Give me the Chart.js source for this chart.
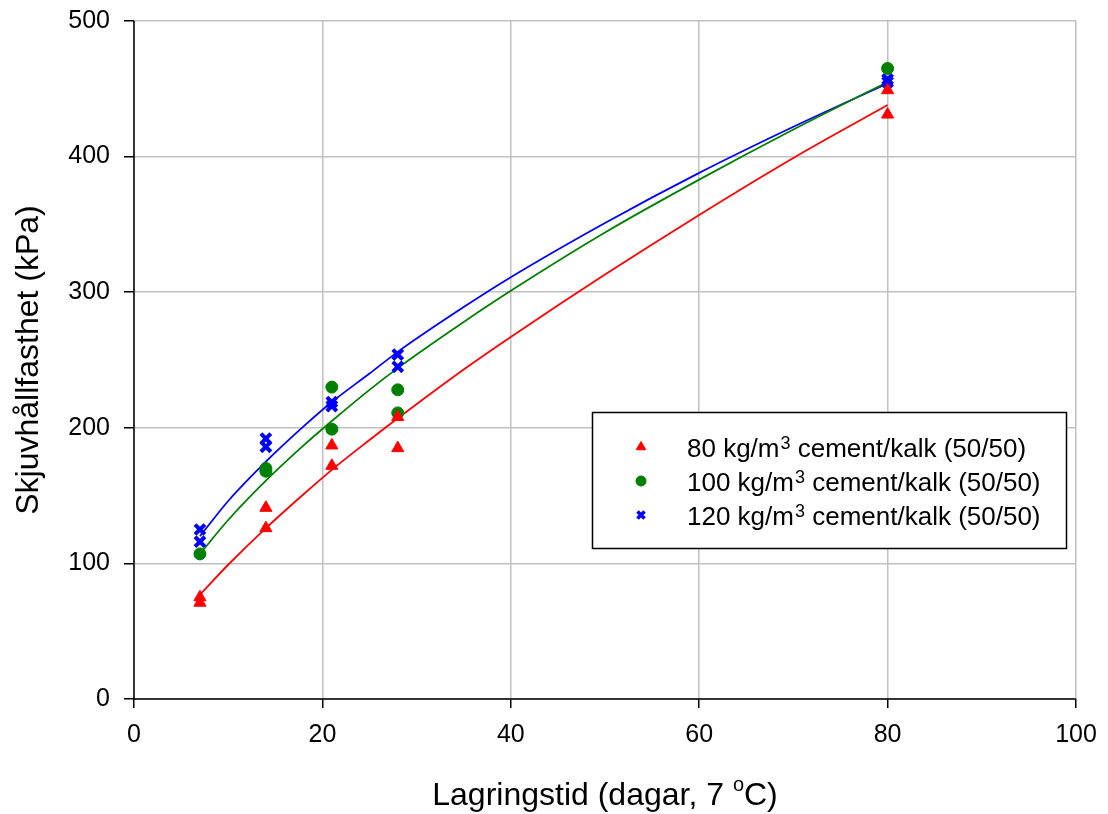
<!DOCTYPE html>
<html>
<head>
<meta charset="utf-8">
<script src="https://cdn.jsdelivr.net/npm/chart.js@4.4.1/dist/chart.umd.min.js"></script>
<style>
  html, body { margin: 0; padding: 0; background: #fff; }
  #wrap { width: 1108px; height: 814px; }
</style>
</head>
<body>
<div id="wrap"><canvas id="canvas1" width="1108" height="814"></canvas></div>
<script>
// measured points (days, kPa)
var redX = [7, 7, 14, 14, 21, 21, 28, 28, 80, 80];
var redY = [75, 71, 141, 126, 187, 172, 208, 185, 449, 431];
var greenX = [7, 14, 14, 21, 21, 28, 28, 80];
var greenY = [107, 170, 168, 230, 199, 228, 211, 465];
var blueX = [7, 7, 14, 14, 21, 21, 28, 28, 80, 80];
var blueY = [125, 116, 192, 186, 219, 216, 254, 245, 457, 455];

// fitted curves
var fitX = [7, 10, 14, 18, 21, 25, 28, 35, 40, 50, 60, 70, 80];
var redFit = [77, 99, 126, 151, 169, 191, 207, 243, 267, 313, 357, 399, 438];
var greenFit = [107, 132, 161, 187, 205, 228, 244, 278, 301, 344, 383, 420, 455];
var blueFit = [120, 146, 175, 201, 219, 240, 256, 289, 311, 351, 388, 422, 454];

var legendLabels = [
	["80 kg/m", "3", " cement/kalk (50/50)"],
	["100 kg/m", "3", " cement/kalk (50/50)"],
	["120 kg/m", "3", " cement/kalk (50/50)"]
];
var xTicks = [0, 20, 40, 60, 80, 100];
var yTicks = [0, 100, 200, 300, 400, 500];

var FONT = "'Liberation Sans', Arial, sans-serif";

function pts(xs, ys) {
	return xs.map(function(x, i) { return { x: x, y: ys[i] }; });
}

var datasets = [];
datasets.push({ type: 'scatter', data: pts(redX, redY), pointStyle: 'triangle', pointRadius: 7,
	backgroundColor: '#ff0000', borderColor: '#ff0000', borderWidth: 1, order: 0 });
datasets.push({ type: 'scatter', data: pts(greenX, greenY), pointStyle: 'circle', pointRadius: 6,
	backgroundColor: '#008000', borderColor: '#008000', borderWidth: 1, order: 0 });
datasets.push({ type: 'scatter', data: pts(blueX, blueY), pointStyle: 'crossRot', pointRadius: 7,
	backgroundColor: '#0000ff', borderColor: '#0000ff', borderWidth: 4, order: 0 });
datasets.push({ type: 'line', data: pts(fitX, redFit), borderColor: '#ff0000', borderWidth: 1.8,
	pointRadius: 0, fill: false, cubicInterpolationMode: 'monotone', order: 1 });
datasets.push({ type: 'line', data: pts(fitX, greenFit), borderColor: '#008000', borderWidth: 1.8,
	pointRadius: 0, fill: false, cubicInterpolationMode: 'monotone', order: 1 });
datasets.push({ type: 'line', data: pts(fitX, blueFit), borderColor: '#0000ff', borderWidth: 1.8,
	pointRadius: 0, fill: false, cubicInterpolationMode: 'monotone', order: 1 });

// x title with superscript and the boxed legend
var extras = {
	id: 'extras',
	afterDraw: function(chart) {
		var ctx = chart.ctx;
		var area = chart.chartArea;
		ctx.save();
		// black left/bottom axes
		ctx.strokeStyle = '#000';
		ctx.lineWidth = 1.5;
		ctx.beginPath();
		ctx.moveTo(area.left, area.top);
		ctx.lineTo(area.left, area.bottom);
		ctx.lineTo(area.right, area.bottom);
		ctx.stroke();

		// x title
		ctx.fillStyle = '#000';
		ctx.textBaseline = 'alphabetic';
		var big = '32px ' + FONT, small = '20px ' + FONT;
		var parts = ["Lagringstid (dagar, 7 ", "o", "C)"];
		ctx.font = big;
		var w0 = ctx.measureText(parts[0]).width;
		var w2 = ctx.measureText(parts[2]).width;
		ctx.font = small;
		var w1 = ctx.measureText(parts[1]).width;
		var total = w0 + w1 + w2;
		var cx = (area.left + area.right) / 2;
		var x = cx - total / 2, base = 805;
		ctx.textAlign = 'left';
		ctx.font = big; ctx.fillText(parts[0], x, base);
		ctx.font = small; ctx.fillText(parts[1], x + w0, base - 14);
		ctx.font = big; ctx.fillText(parts[2], x + w0 + w1, base);

		// legend box
		var bx = 592, by = 412, bw = 474, bh = 136;
		ctx.fillStyle = '#fff';
		ctx.fillRect(bx, by, bw, bh);
		ctx.strokeStyle = '#000';
		ctx.lineWidth = 1.5;
		ctx.strokeRect(bx + 0.5, by + 0.5, bw, bh);
		var rowsY = [447, 481, 515];
		var styles = [
			{ s: 'triangle', r: 5.5, c: '#ff0000', w: 1 },
			{ s: 'circle', r: 5, c: '#008000', w: 1 },
			{ s: 'crossRot', r: 5, c: '#0000ff', w: 3.5 }
		];
		for (var i = 0; i < 3; i++) {
			var st = styles[i];
			ctx.fillStyle = st.c; ctx.strokeStyle = st.c; ctx.lineWidth = st.w;
			Chart.helpers.drawPoint(ctx, { pointStyle: st.s, radius: st.r, rotation: 0, borderWidth: st.w }, 641, rowsY[i]);
			var lb = legendLabels[i];
			var tx = 687, ty = rowsY[i] + 10;
			ctx.fillStyle = '#000';
			ctx.font = '26px ' + FONT;
			ctx.fillText(lb[0], tx, ty);
			var a = ctx.measureText(lb[0]).width;
			ctx.font = '18px ' + FONT;
			ctx.fillText(lb[1], tx + a + 1, ty - 8);
			var b = ctx.measureText(lb[1]).width;
			ctx.font = '26px ' + FONT;
			ctx.fillText(lb[2], tx + a + b + 1, ty);
		}
		ctx.restore();
	}
};

new Chart(document.getElementById('canvas1'), {
	type: 'scatter',
	data: { datasets: datasets },
	plugins: [extras],
	options: {
		responsive: false,
		maintainAspectRatio: false,
		animation: false,
		layout: { padding: { left: 0, top: 21, right: 32, bottom: 0 } },
		plugins: {
			legend: { display: false },
			tooltip: { enabled: false }
		},
		scales: {
			x: {
				type: 'linear', min: 0, max: 100,
				afterBuildTicks: function(scale) { scale.ticks = xTicks.map(function(v) { return { value: v }; }); },
				afterFit: function(scale) { scale.height = 115; scale.paddingLeft = 0; scale.paddingRight = 0; },
				grid: { color: '#c0c0c0', lineWidth: 1.5, drawTicks: true, tickLength: 9, tickColor: '#000' },
				border: { display: false },
				ticks: { color: '#000', font: { family: FONT, size: 25 }, padding: 12, maxRotation: 0 }
			},
			y: {
				type: 'linear', min: 0, max: 500,
				afterBuildTicks: function(scale) { scale.ticks = yTicks.map(function(v) { return { value: v }; }); },
				afterFit: function(scale) { scale.width = 134; scale.paddingTop = 0; scale.paddingBottom = 0; },
				grid: { color: '#c0c0c0', lineWidth: 1.5, drawTicks: true, tickLength: 10, tickColor: '#000' },
				border: { display: false },
				ticks: { color: '#000', font: { family: FONT, size: 25 }, padding: 14 },
				title: { display: true, text: 'Skjuvhållfasthet (kPa)', color: '#000',
					font: { family: FONT, size: 32 }, padding: { top: 10, bottom: 0 } }
			}
		}
	}
});
</script>
</body>
</html>
